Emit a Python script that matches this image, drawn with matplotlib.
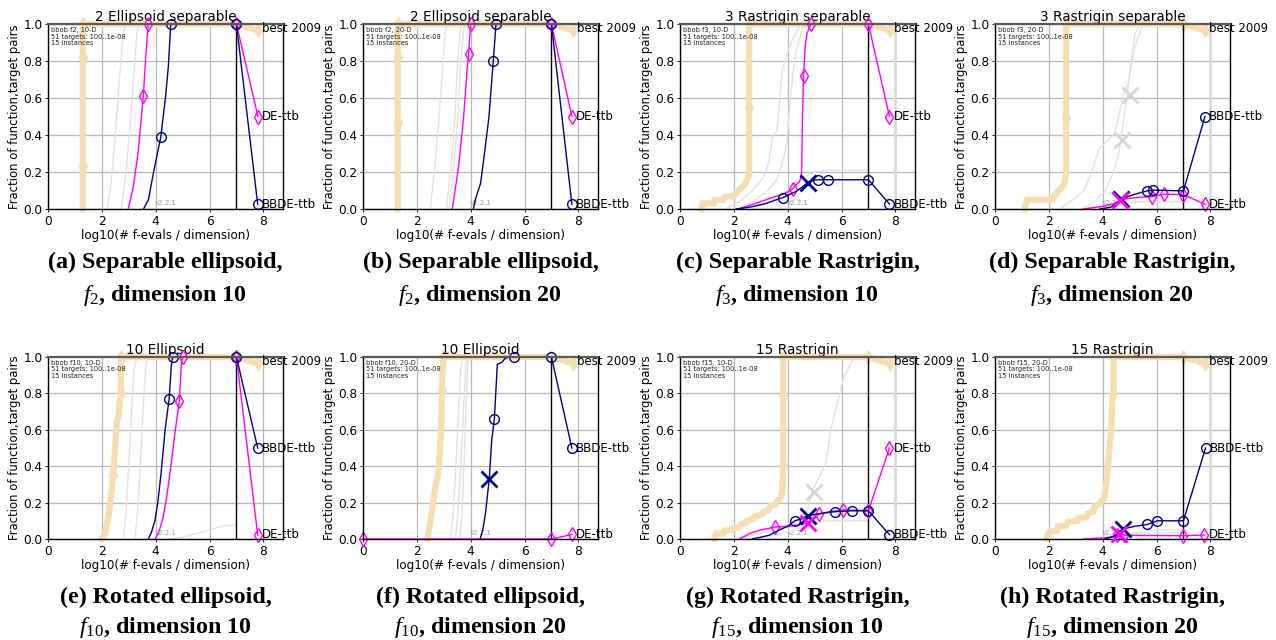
import numpy as np
import matplotlib
matplotlib.use("Agg")
import matplotlib.pyplot as plt

plt.rcParams.update({
    "font.family": "DejaVu Sans",
    "mathtext.fontset": "custom",
    "mathtext.rm": "Liberation Serif",
    "mathtext.it": "Liberation Serif:italic",
    "mathtext.bf": "Liberation Serif:bold",
})

# ---------------------------------------------------------------- data
titles = ["2 Ellipsoid separable", "2 Ellipsoid separable",
          "3 Rastrigin separable", "3 Rastrigin separable",
          "10 Ellipsoid", "10 Ellipsoid", "15 Rastrigin", "15 Rastrigin"]
func_ids = [2, 2, 3, 3, 10, 10, 15, 15]
dims = [10, 20, 10, 20, 10, 20, 10, 20]
caption_line1 = ["(a) Separable ellipsoid,", "(b) Separable ellipsoid,",
                 "(c) Separable Rastrigin,", "(d) Separable Rastrigin,",
                 "(e) Rotated ellipsoid,", "(f) Rotated ellipsoid,",
                 "(g) Rotated Rastrigin,", "(h) Rotated Rastrigin,"]
max_budget_log10 = 7.0

# f2, 10-D
f2d10_best_x = [1.29, 1.29, 1.29, 1.29, 7.0, 7.8]
f2d10_best_y = [0.0, 0.235, 0.82, 1.0, 1.0, 0.965]
f2d10_best_mk = [1, 2, 3, 4, 5]
f2d10_gray = [([2.2, 2.35, 2.5, 2.65, 2.8, 2.9], [0, 0.15, 0.4, 0.7, 0.95, 1.0]),
              ([2.72, 2.9, 3.05, 3.2, 3.3, 3.38], [0, 0.2, 0.45, 0.75, 0.95, 1.0])]
f2d10_de_x = [2.98, 3.17, 3.36, 3.54, 3.63, 3.72, 7.0, 7.8]
f2d10_de_y = [0.0, 0.12, 0.32, 0.61, 0.82, 1.0, 1.0, 0.5]
f2d10_de_mk = [3, 5, 6, 7]
f2d10_bb_x = [3.55, 3.73, 3.91, 4.19, 4.37, 4.47, 4.56, 7.0, 7.79]
f2d10_bb_y = [0.0, 0.05, 0.19, 0.39, 0.61, 0.77, 1.0, 1.0, 0.025]
f2d10_bb_mk = [3, 6, 7, 8]
f2d10_cross = []

# f2, 20-D
f2d20_best_x = [1.29, 1.29, 1.29, 1.29, 7.0, 7.8]
f2d20_best_y = [0.0, 0.47, 0.82, 1.0, 1.0, 0.965]
f2d20_best_mk = [1, 2, 3, 4, 5]
f2d20_gray = [([2.5, 2.65, 2.8, 2.95, 3.05, 3.12], [0, 0.2, 0.45, 0.75, 0.95, 1.0]),
              ([3.1, 3.25, 3.4, 3.5, 3.6, 3.65], [0, 0.2, 0.45, 0.75, 0.95, 1.0]),
              ([3.2, 3.35, 3.5, 3.62, 3.72, 3.78], [0, 0.2, 0.45, 0.75, 0.95, 1.0])]
f2d20_de_x = [3.31, 3.37, 3.55, 3.74, 3.86, 3.92, 4.0, 7.0, 7.76]
f2d20_de_y = [0.0, 0.05, 0.23, 0.5, 0.74, 0.837, 1.0, 1.0, 0.5]
f2d20_de_mk = [5, 6, 7, 8]
f2d20_bb_x = [4.1, 4.17, 4.37, 4.53, 4.68, 4.84, 4.94, 7.0, 7.76]
f2d20_bb_y = [0.0, 0.05, 0.14, 0.32, 0.5, 0.80, 1.0, 1.0, 0.025]
f2d20_bb_mk = [5, 6, 7, 8]
f2d20_cross = []

# f3, 10-D
f3d10_best_x = [0.8, 0.85, 1.25, 1.3, 1.6, 1.65, 2.0, 2.1, 2.25, 2.4, 2.5, 2.57, 2.57, 2.57, 7.0, 7.8]
f3d10_best_y = [0.0, 0.03, 0.03, 0.05, 0.05, 0.065, 0.07, 0.09, 0.11, 0.13, 0.16, 0.19, 0.55, 1.0, 1.0, 0.965]
f3d10_best_mk = [12, 13, 14, 15]
f3d10_gray = [([1.7, 2.2, 2.7, 3.1, 3.3, 3.45, 3.6, 3.8, 4.0, 4.2, 4.5],
               [0, 0.04, 0.1, 0.17, 0.25, 0.4, 0.42, 0.75, 0.85, 0.92, 1.0]),
              ([2.2, 2.7, 3.2, 3.6, 3.9, 4.0, 4.1, 4.3, 4.6],
               [0, 0.04, 0.09, 0.16, 0.3, 0.42, 0.6, 0.85, 1.0]),
              ([2.7, 3.5, 4.2, 4.6, 5.0, 5.5, 7.0],
               [0, 0.05, 0.12, 0.17, 0.2, 0.21, 0.21])]
f3d10_de_x = [2.15, 2.8, 3.4, 3.8, 4.05, 4.2, 4.3, 4.45, 4.52, 4.55, 4.59, 4.65, 4.72, 4.86, 7.0, 7.78]
f3d10_de_y = [0.0, 0.03, 0.06, 0.08, 0.095, 0.11, 0.13, 0.15, 0.2, 0.5, 0.72, 0.88, 0.95, 1.0, 1.0, 0.5]
f3d10_de_mk = [5, 10, 13, 14, 15]
f3d10_bb_x = [2.09, 2.6, 3.2, 3.82, 4.3, 4.55, 4.74, 4.95, 5.13, 5.5, 7.0, 7.78]
f3d10_bb_y = [0.0, 0.01, 0.03, 0.062, 0.094, 0.12, 0.143, 0.155, 0.158, 0.158, 0.158, 0.027]
f3d10_bb_mk = [3, 8, 9, 10, 11]
f3d10_cross = [("bb", 4.74, 0.143)]

# f3, 20-D
f3d20_best_x = [1.1, 1.15, 1.2, 2.1, 2.2, 2.33, 2.5, 2.6, 2.64, 2.64, 2.64, 7.0, 7.8]
f3d20_best_y = [0.0, 0.03, 0.05, 0.05, 0.067, 0.094, 0.12, 0.15, 0.2, 0.49, 1.0, 1.0, 0.965]
f3d20_best_mk = [9, 10, 11, 12]
f3d20_gray = [([2.4, 2.9, 3.3, 3.6, 3.85, 4.2, 4.45, 4.62, 4.75, 4.95, 5.2, 5.42, 5.55],
               [0, 0.05, 0.1, 0.2, 0.32, 0.375, 0.41, 0.52, 0.61, 0.68, 0.88, 0.97, 1.0]),
              ([3.2, 3.7, 4.1, 4.4, 4.6, 4.75, 4.9, 5.05, 5.2, 5.4],
               [0, 0.04, 0.1, 0.2, 0.3, 0.45, 0.6, 0.8, 0.95, 1.0]),
              ([3.3, 4.0, 4.5, 5.0, 5.5, 7.0],
               [0, 0.01, 0.025, 0.035, 0.04, 0.04])]
f3d20_de_x = [3.26, 4.06, 4.4, 4.65, 4.9, 5.3, 5.85, 6.28, 7.0, 7.8]
f3d20_de_y = [0.0, 0.015, 0.03, 0.045, 0.056, 0.062, 0.067, 0.08, 0.078, 0.025]
f3d20_de_mk = [6, 7, 8, 9]
f3d20_bb_x = [3.9, 4.3, 4.5, 4.68, 4.9, 5.2, 5.65, 5.87, 7.0, 7.8]
f3d20_bb_y = [0.0, 0.01, 0.03, 0.052, 0.065, 0.08, 0.098, 0.102, 0.098, 0.5]
f3d20_bb_mk = [6, 7, 8, 9]
f3d20_cross = [("gray", 4.7, 0.375), ("gray", 5.0, 0.615),
               ("bb", 4.68, 0.052), ("de", 4.65, 0.048)]

# f10, 10-D
f10d10_best_x = [1.99, 2.12, 2.24, 2.37, 2.42, 2.49, 2.55, 2.61, 2.7, 2.72, 7.0, 7.8]
f10d10_best_y = [0.0, 0.03, 0.12, 0.27, 0.35, 0.49, 0.64, 0.67, 0.80, 1.0, 1.0, 0.965]
f10d10_best_mk = [4, 8, 9, 10, 11]
f10d10_gray = [([2.8, 2.9, 3.0, 3.1, 3.2, 3.3], [0, 0.15, 0.4, 0.7, 0.93, 1.0]),
               ([3.23, 3.33, 3.43, 3.53, 3.62, 3.68], [0, 0.15, 0.4, 0.7, 0.93, 1.0]),
               ([4.5, 5.0, 5.5, 6.0, 6.6, 7.0], [0, 0.01, 0.03, 0.05, 0.075, 0.075])]
f10d10_de_x = [3.98, 4.12, 4.28, 4.42, 4.58, 4.75, 4.88, 4.95, 5.0, 7.0, 7.79]
f10d10_de_y = [0.0, 0.04, 0.12, 0.24, 0.42, 0.62, 0.76, 0.95, 1.0, 1.0, 0.022]
f10d10_de_mk = [6, 8, 9, 10]
f10d10_bb_x = [3.73, 3.85, 3.97, 4.08, 4.2, 4.35, 4.5, 4.58, 4.63, 7.0, 7.79]
f10d10_bb_y = [0.0, 0.04, 0.1, 0.2, 0.36, 0.6, 0.77, 0.95, 1.0, 1.0, 0.5]
f10d10_bb_mk = [6, 8, 9, 10]
f10d10_cross = []

# f10, 20-D
f10d20_best_x = [2.39, 2.45, 2.51, 2.63, 2.7, 2.76, 2.82, 2.86, 2.9, 2.94, 2.97, 7.0, 7.8]
f10d20_best_y = [0.0, 0.05, 0.1, 0.23, 0.3, 0.33, 0.4, 0.5, 0.6, 0.82, 1.0, 1.0, 0.965]
f10d20_best_mk = [9, 10, 11, 12]
f10d20_gray = [([3.25, 3.35, 3.45, 3.55, 3.63, 3.7], [0, 0.15, 0.4, 0.7, 0.93, 1.0]),
               ([3.43, 3.53, 3.63, 3.73, 3.81, 3.88], [0, 0.15, 0.4, 0.7, 0.93, 1.0]),
               ([3.6, 3.68, 3.75, 3.82, 3.88, 3.93], [0, 0.15, 0.4, 0.7, 0.93, 1.0])]
f10d20_de_x = [0.0, 7.0, 7.76]
f10d20_de_y = [0.0, 0.0, 0.025]
f10d20_de_mk = [0, 1, 2]
f10d20_bb_x = [4.35, 4.45, 4.55, 4.69, 4.78, 4.88, 4.95, 4.99, 5.15, 5.27, 5.4, 5.61, 7.0, 7.76]
f10d20_bb_y = [0.0, 0.05, 0.14, 0.33, 0.54, 0.66, 0.85, 0.96, 0.97, 0.99, 1.0, 1.0, 1.0, 0.5]
f10d20_bb_mk = [5, 11, 12, 13]
f10d20_cross = [("bb", 4.69, 0.33)]

# f15, 10-D
f15d10_best_x = [1.29, 1.33, 1.6, 1.65, 1.9, 1.95, 2.2, 2.25, 2.45, 2.5, 2.75, 2.8, 3.05,
                 3.1, 3.3, 3.35, 3.55, 3.62, 3.7, 3.8, 3.84, 3.84, 3.84, 7.0, 7.8]
f15d10_best_y = [0.0, 0.03, 0.03, 0.045, 0.05, 0.06, 0.065, 0.08, 0.09, 0.1, 0.11, 0.125, 0.135,
                 0.15, 0.16, 0.18, 0.19, 0.21, 0.22, 0.25, 0.40, 0.79, 1.0, 1.0, 0.965]
f15d10_best_mk = [20, 21, 22, 23, 24]
f15d10_gray = [([2.0, 2.8, 3.5, 4.0, 4.5, 4.74, 4.92, 5.17, 5.42, 5.6, 5.9, 6.09, 6.4, 6.65],
                [0, 0.03, 0.06, 0.08, 0.12, 0.16, 0.27, 0.34, 0.42, 0.6, 0.78, 0.89, 0.98, 1.0]),
               ([2.1, 3.0, 3.8, 4.5, 5.0, 5.5, 6.2, 7.0],
                [0, 0.03, 0.06, 0.09, 0.13, 0.15, 0.16, 0.16]),
               ([2.5, 3.5, 4.2, 4.8, 5.5, 7.0],
                [0, 0.02, 0.05, 0.08, 0.1, 0.1])]
f15d10_de_x = [2.22, 2.58, 3.0, 3.54, 4.06, 4.5, 4.74, 5.0, 5.17, 5.54, 6.06, 7.0, 7.78]
f15d10_de_y = [0.0, 0.03, 0.05, 0.066, 0.07, 0.08, 0.088, 0.12, 0.137, 0.15, 0.16, 0.155, 0.5]
f15d10_de_mk = [3, 8, 10, 11, 12]
f15d10_bb_x = [2.7, 3.3, 3.7, 4.0, 4.27, 4.5, 4.74, 5.2, 5.76, 6.4, 7.0, 7.78]
f15d10_bb_y = [0.0, 0.02, 0.05, 0.07, 0.10, 0.11, 0.128, 0.14, 0.15, 0.155, 0.155, 0.024]
f15d10_bb_mk = [4, 8, 9, 10, 11]
f15d10_cross = [("gray", 4.98, 0.26), ("bb", 4.74, 0.128), ("de", 4.74, 0.088)]

# f15, 20-D
f15d20_best_x = [1.91, 1.95, 2.03, 2.3, 2.34, 2.65, 2.71, 3.05, 3.1, 3.4, 3.45, 3.65,
                 3.7, 3.9, 3.95, 4.06, 4.15, 4.25, 4.32, 4.37, 4.4, 4.4, 7.0, 7.8]
f15d20_best_y = [0.0, 0.02, 0.04, 0.045, 0.07, 0.075, 0.095, 0.1, 0.115, 0.12, 0.14, 0.15,
                 0.18, 0.19, 0.21, 0.22, 0.32, 0.5, 0.6, 0.78, 0.8, 1.0, 1.0, 0.965]
f15d20_best_mk = [20, 21, 22, 23]
f15d20_gray = [([3.3, 4.0, 4.5, 5.0, 5.5, 6.0, 7.0], [0, 0.01, 0.02, 0.03, 0.04, 0.05, 0.05]),
               ([4.2, 4.8, 5.3, 6.0, 7.0], [0, 0.02, 0.03, 0.035, 0.035])]
f15d20_de_x = [3.26, 4.0, 4.31, 4.55, 4.68, 4.8, 5.0, 7.0, 7.78]
f15d20_de_y = [0.0, 0.005, 0.01, 0.02, 0.03, 0.02, 0.02, 0.018, 0.022]
f15d20_de_mk = [3, 5, 7, 8]
f15d20_bb_x = [4.06, 4.43, 4.74, 5.2, 5.66, 6.03, 7.0, 7.82]
f15d20_bb_y = [0.0, 0.015, 0.055, 0.07, 0.08, 0.10, 0.10, 0.5]
f15d20_bb_mk = [4, 5, 6, 7]
f15d20_cross = [("bb", 4.74, 0.055), ("de", 4.62, 0.03)]

# ---------------------------------------------------------------- styles
BEST_C = "#f5deb3"
DE_C = "#ff00ff"
BB_C = "#000080"
GRAY_C = "#e2e2e2"
CROSS_C = {"bb": BB_C, "de": DE_C, "gray": "#d6d6d6"}

panels = [
    (f2d10_gray, (f2d10_best_x, f2d10_best_y, f2d10_best_mk), (f2d10_de_x, f2d10_de_y, f2d10_de_mk),
     (f2d10_bb_x, f2d10_bb_y, f2d10_bb_mk), f2d10_cross),
    (f2d20_gray, (f2d20_best_x, f2d20_best_y, f2d20_best_mk), (f2d20_de_x, f2d20_de_y, f2d20_de_mk),
     (f2d20_bb_x, f2d20_bb_y, f2d20_bb_mk), f2d20_cross),
    (f3d10_gray, (f3d10_best_x, f3d10_best_y, f3d10_best_mk), (f3d10_de_x, f3d10_de_y, f3d10_de_mk),
     (f3d10_bb_x, f3d10_bb_y, f3d10_bb_mk), f3d10_cross),
    (f3d20_gray, (f3d20_best_x, f3d20_best_y, f3d20_best_mk), (f3d20_de_x, f3d20_de_y, f3d20_de_mk),
     (f3d20_bb_x, f3d20_bb_y, f3d20_bb_mk), f3d20_cross),
    (f10d10_gray, (f10d10_best_x, f10d10_best_y, f10d10_best_mk), (f10d10_de_x, f10d10_de_y, f10d10_de_mk),
     (f10d10_bb_x, f10d10_bb_y, f10d10_bb_mk), f10d10_cross),
    (f10d20_gray, (f10d20_best_x, f10d20_best_y, f10d20_best_mk), (f10d20_de_x, f10d20_de_y, f10d20_de_mk),
     (f10d20_bb_x, f10d20_bb_y, f10d20_bb_mk), f10d20_cross),
    (f15d10_gray, (f15d10_best_x, f15d10_best_y, f15d10_best_mk), (f15d10_de_x, f15d10_de_y, f15d10_de_mk),
     (f15d10_bb_x, f15d10_bb_y, f15d10_bb_mk), f15d10_cross),
    (f15d20_gray, (f15d20_best_x, f15d20_best_y, f15d20_best_mk), (f15d20_de_x, f15d20_de_y, f15d20_de_mk),
     (f15d20_bb_x, f15d20_bb_y, f15d20_bb_mk), f15d20_cross),
]

W, H = 1276, 640
fig = plt.figure(figsize=(W / 100, H / 100), dpi=100)

col_left = [48, 363, 680, 995]
ax_w = 235
row_top = [24, 357]
row_bot = [209, 539]


def draw_panel(ax, idx, grays, best, de, bb, crosses):
    ax.set_xlim(0, 8.73)
    ax.set_ylim(0, 1.0)
    ax.set_xticks([0, 2, 4, 6, 8])
    ax.set_yticks(np.round(np.arange(0, 1.01, 0.2), 1))
    ax.set_yticklabels([f"{v:.1f}" for v in np.arange(0, 1.01, 0.2)])
    ax.tick_params(labelsize=8.7, length=2.5, width=0.6, pad=1.5)
    ax.grid(True, color="#b8b8b8", lw=0.9)
    ax.set_axisbelow(True)
    for s in ax.spines.values():
        s.set_linewidth(1.0)
        s.set_zorder(6)
    ax.spines["top"].set_color("#5a5a5a")
    ax.spines["top"].set_linewidth(1.6)

    if func_ids[idx] in (3, 15):
        ax.axvline(8, color="#dddddd", lw=2.2, zorder=1)

    for gx, gy in grays:
        ax.plot(gx, gy, color=GRAY_C, lw=1.0, zorder=2)

    bx, by, bm = best
    ax.plot(bx, by, color=BEST_C, lw=4.5, marker="d", ms=7.5, mfc=BEST_C, mec=BEST_C,
            markevery=bm, zorder=3, clip_on=False, solid_joinstyle="miter")

    ax.axvline(max_budget_log10, color="black", lw=1.0, zorder=4)

    dx, dy, dm = de
    ax.plot(dx, dy, color=DE_C, lw=1.0, marker="d", ms=7, mfc="none", mec=DE_C,
            mew=1.0, markevery=dm, zorder=5, clip_on=False)
    cx, cy, cm = bb
    ax.plot(cx, cy, color=BB_C, lw=1.0, marker="o", ms=7, mfc="none", mec=BB_C,
            mew=1.0, markevery=cm, zorder=5, clip_on=False)

    for who, xx, yy in crosses:
        ax.plot([xx], [yy], marker="x", ms=11, mew=2.0, color=CROSS_C[who],
                zorder=4 if who == "gray" else 7, clip_on=False, ls="none")

    ax.text(bx[-1] + 0.16, by[-1] + 0.01, "best 2009", fontsize=8.5, va="center", ha="left",
            clip_on=False, zorder=8)
    ax.text(dx[-1] + 0.15, dy[-1], "DE-ttb", fontsize=8.5, va="center", ha="left",
            clip_on=False, zorder=8)
    ax.text(cx[-1] + 0.15, cy[-1], "BBDE-ttb", fontsize=8.5, va="center", ha="left",
            clip_on=False, zorder=8)

    ax.text(0.012, 0.985, f"bbob f{func_ids[idx]}, {dims[idx]}-D\n51 targets: 100..1e-08\n15 instances",
            transform=ax.transAxes, fontsize=4.8, va="top", ha="left", color="#222222",
            linespacing=1.15, zorder=8)
    ax.text(0.5, 0.035, "v2.2.1", transform=ax.transAxes, fontsize=5, color="#999999",
            ha="center", va="center", zorder=1.5)

    ax.set_title(titles[idx], fontsize=9.8, pad=2)
    ax.set_xlabel("log10(# f-evals / dimension)", fontsize=8.6, labelpad=1)
    ax.set_ylabel("Fraction of function,target pairs", fontsize=8.4, labelpad=2)


for i, (grays, best, de, bb, crosses) in enumerate(panels):
    r, c = divmod(i, 4)
    left = col_left[c] / W
    bottom = (H - row_bot[r]) / H
    height = (row_bot[r] - row_top[r]) / H
    ax = fig.add_axes([left, bottom, ax_w / W, height])
    draw_panel(ax, i, grays, best, de, bb, crosses)

    xc = (col_left[c] + ax_w / 2) / W
    y1 = [262, 597][r]
    y2 = [296, 628][r]
    fig.text(xc, 1 - y1 / H, caption_line1[i], ha="center", va="center",
             fontsize=17.3, fontweight="bold", family="Liberation Serif")
    fig.text(xc, 1 - y2 / H, rf"$f_{{{func_ids[i]}}}$, dimension {dims[i]}",
             ha="center", va="center", fontsize=17.3, fontweight="bold",
             family="Liberation Serif")

fig.savefig("out.png", dpi=100)
